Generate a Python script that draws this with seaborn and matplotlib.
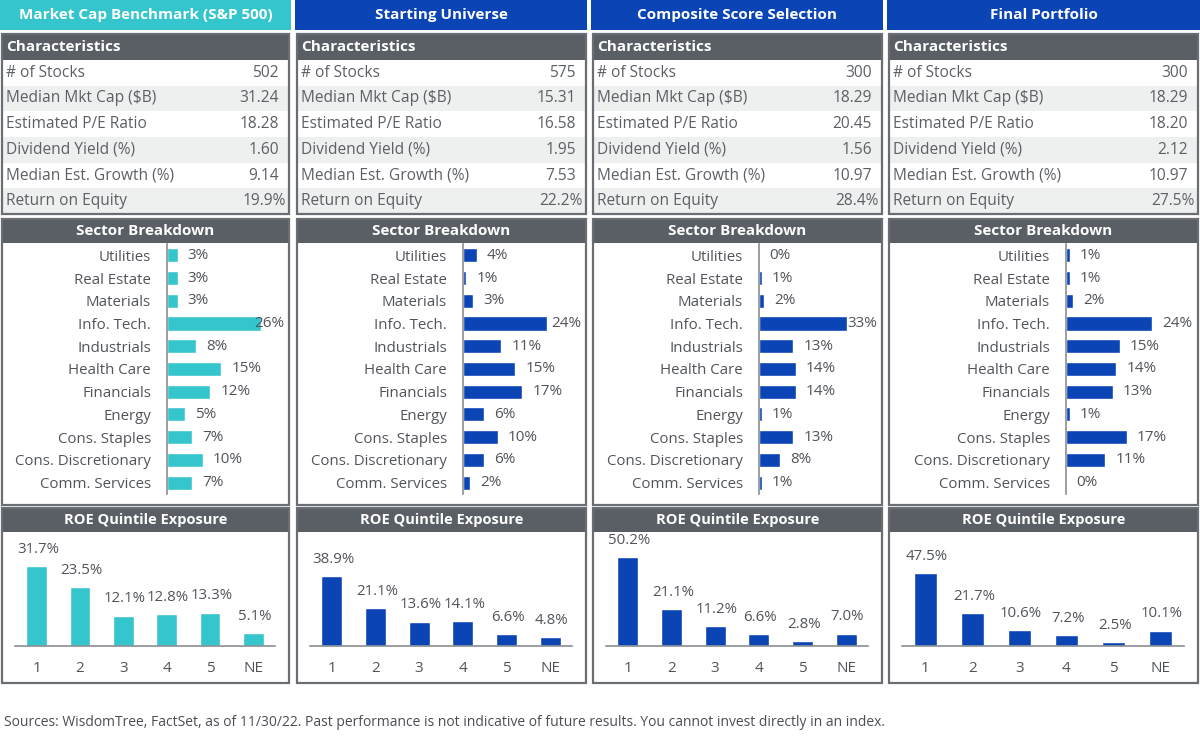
import numpy as np
import pandas as pd
import matplotlib
matplotlib.use("Agg")
import matplotlib.pyplot as plt
import seaborn as sns
from matplotlib.patches import Rectangle
from matplotlib.ticker import FixedLocator

# ---------------- data ----------------
panel_titles = ["Market Cap Benchmark (S&P 500)", "Starting Universe",
                "Composite Score Selection", "Final Portfolio"]

char_labels = ["# of Stocks", "Median Mkt Cap ($B)", "Estimated P/E Ratio",
               "Dividend Yield (%)", "Median Est. Growth (%)", "Return on Equity"]
bench_chars = ["502", "31.24", "18.28", "1.60", "9.14", "19.9%"]
universe_chars = ["575", "15.31", "16.58", "1.95", "7.53", "22.2%"]
composite_chars = ["300", "18.29", "20.45", "1.56", "10.97", "28.4%"]
final_chars = ["300", "18.29", "18.20", "2.12", "10.97", "27.5%"]

sectors = ["Utilities", "Real Estate", "Materials", "Info. Tech.", "Industrials",
           "Health Care", "Financials", "Energy", "Cons. Staples",
           "Cons. Discretionary", "Comm. Services"]
bench_sector = [3, 3, 3, 26, 8, 15, 12, 5, 7, 10, 7]
universe_sector = [4, 1, 3, 24, 11, 15, 17, 6, 10, 6, 2]
composite_sector = [0, 1, 2, 33, 13, 14, 14, 1, 13, 8, 1]
final_sector = [1, 1, 2, 24, 15, 14, 13, 1, 17, 11, 0]

quintiles = ["1", "2", "3", "4", "5", "NE"]
bench_roe = [31.7, 23.5, 12.1, 12.8, 13.3, 5.1]
universe_roe = [38.9, 21.1, 13.6, 14.1, 6.6, 4.8]
composite_roe = [50.2, 21.1, 11.2, 6.6, 2.8, 7.0]
final_roe = [47.5, 21.7, 10.6, 7.2, 2.5, 10.1]

footer = ("Sources: WisdomTree, FactSet, as of 11/30/22. Past performance is not "
          "indicative of future results. You cannot invest directly in an index.")

all_chars = [bench_chars, universe_chars, composite_chars, final_chars]
all_sector = [bench_sector, universe_sector, composite_sector, final_sector]
all_roe = [bench_roe, universe_roe, composite_roe, final_roe]

# ---------------- style ----------------
TEAL = "#35C5CC"
BLUE = "#0B44B5"
BAR_GRAY = "#5A5F66"
BORDER = "#6A6E74"
TEXT = "#50545A"
TEXT_LIGHT = "#5C6066"
ROW_GRAY = "#EEEFEF"

sns.set_theme(style="white")
plt.rcParams['font.family'] = ['Open Sans', 'DejaVu Sans']

W, H = 1200, 744
fig = plt.figure(figsize=(12, 7.44), dpi=100)
fig.patch.set_facecolor("white")

def rect_axes(x0, y0, x1, y1, z=1):
    return fig.add_axes([x0 / W, 1 - y1 / H, (x1 - x0) / W, (y1 - y0) / H], zorder=z)

ov = rect_axes(0, 0, W, H, z=0)
ov.set_xlim(0, W)
ov.set_ylim(H, 0)
ov.axis("off")

box_x = [(2, 289), (297, 586), (593, 882), (889, 1198)]
head_x = [(0, 291), (295, 587), (591, 883), (887, 1200)]
head_col = [TEAL, BLUE, BLUE, BLUE]
sector_off = [165, 166, 166, 177]
sector_xmax = [33.5, 35, 46, 36.5]
roe_ymax = [45, 63, 64, 74]

def box(x0, x1, y0, y1, title_h, title, left_title=False, tsize=10.5):
    ov.add_patch(Rectangle((x0, y0), x1 - x0, title_h, facecolor=BAR_GRAY,
                           edgecolor="none"))
    ov.add_patch(Rectangle((x0, y0), x1 - x0, y1 - y0, facecolor="none",
                           edgecolor=BORDER, linewidth=1.6))
    if left_title:
        ov.text(x0 + 4, y0 + title_h / 2, title, color="white", fontsize=tsize,
                fontweight="bold", ha="left", va="center")
    else:
        ov.text((x0 + x1) / 2, y0 + title_h / 2, title, color="white",
                fontsize=tsize, fontweight="bold", ha="center", va="center")

row_h = (214 - 60) / 6.0

for c in range(4):
    bx0, bx1 = box_x[c]
    hx0, hx1 = head_x[c]
    ov.add_patch(Rectangle((hx0, 0), hx1 - hx0, 30, facecolor=head_col[c], edgecolor="none"))
    ov.text((hx0 + hx1) / 2, 15, panel_titles[c], color="white", fontsize=11,
            fontweight="bold", ha="center", va="center")

    for r, (lab, val) in enumerate(zip(char_labels, all_chars[c])):
        ry = 60 + r * row_h
        if r % 2 == 1:
            ov.add_patch(Rectangle((bx0, ry), bx1 - bx0, row_h, facecolor=ROW_GRAY,
                                   edgecolor="none"))
        ov.text(bx0 + 4, ry + row_h / 2, lab, color=TEXT_LIGHT, fontsize=11.2,
                ha="left", va="center")
        xr = bx1 - 3 if val.endswith("%") else bx1 - 10
        ov.text(xr, ry + row_h / 2, val, color=TEXT_LIGHT, fontsize=11.2,
                ha="right", va="center")
    box(bx0, bx1, 34, 214, 26, "Characteristics", left_title=True, tsize=11)

    box(bx0, bx1, 219, 505, 24, "Sector Breakdown", tsize=11)
    ax_l = bx0 + sector_off[c]
    ax_r = bx1 - 1
    ax = rect_axes(ax_l, 244, ax_r, 494, z=2)
    ax.patch.set_alpha(0)
    df = pd.DataFrame({"sector": sectors, "weight": all_sector[c]})
    color = TEAL if c == 0 else BLUE
    sns.barplot(data=df, x="weight", y="sector", orient="h", color=color,
                width=0.62, ax=ax, saturation=1)
    xmax = sector_xmax[c]
    ax.set_xlim(0, xmax)
    ax.set_ylim(len(sectors) - 0.5, -0.5)
    ax.set_xlabel("")
    ax.set_ylabel("")
    ax.set_xticks([])
    for s in ["top", "right", "bottom"]:
        ax.spines[s].set_visible(False)
    ax.spines["left"].set_color("#8A8E93")
    ax.spines["left"].set_linewidth(1.2)
    ax.tick_params(axis="y", which="major", length=0, pad=11.5, labelsize=10.8,
                   labelcolor=TEXT)
    ax.yaxis.set_minor_locator(FixedLocator(np.arange(-0.5, len(sectors), 1.0)))
    ax.tick_params(axis="y", which="minor", length=3, width=1, color="#8A8E93",
                   direction="out")
    upp = xmax / (ax_r - ax_l)
    for i, v in enumerate(all_sector[c]):
        lx = min(v + 10 * upp, xmax - 34 * upp)
        ax.text(lx, i, f"{v:.0f}%", color=TEXT, fontsize=11, ha="left",
                va="center")

    box(bx0, bx1, 508, 683, 24, "ROE Quintile Exposure", tsize=10.5)
    rx0, rx1 = bx0 + 13, bx1 - 14
    ax2 = rect_axes(rx0, 533, rx1, 646, z=2)
    ax2.patch.set_alpha(0)
    df2 = pd.DataFrame({"q": quintiles, "roe": all_roe[c]})
    sns.barplot(data=df2, x="q", y="roe", color=color, width=0.48, ax=ax2,
                saturation=1)
    ax2.set_ylim(0, roe_ymax[c])
    ax2.set_xlim(-0.5, len(quintiles) - 0.5)
    ax2.set_xlabel("")
    ax2.set_ylabel("")
    ax2.set_yticks([])
    for s in ["top", "right", "left"]:
        ax2.spines[s].set_visible(False)
    ax2.spines["bottom"].set_color("#8A8E93")
    ax2.spines["bottom"].set_linewidth(1.2)
    ax2.tick_params(axis="x", which="major", length=0, pad=11, labelsize=11,
                    labelcolor=TEXT)
    ax2.xaxis.set_minor_locator(FixedLocator(np.arange(-0.5, len(quintiles), 1.0)))
    ax2.tick_params(axis="x", which="minor", length=5, width=1, color="#8A8E93",
                    direction="out")
    for i, v in enumerate(all_roe[c]):
        ax2.annotate(f"{v:.1f}%", (i, v), xytext=(1, 12), textcoords="offset points",
                     ha="center", va="center", color=TEXT, fontsize=10.8)

ov.text(4, 722, footer, color="#4A4E54", fontsize=10, ha="left", va="center")

fig.savefig("out.png", dpi=100, facecolor="white")
